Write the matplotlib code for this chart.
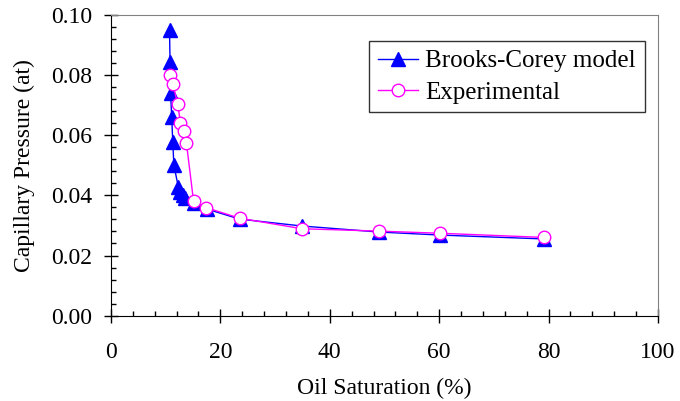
import numpy as np
import matplotlib.pyplot as plt
from matplotlib.ticker import MultipleLocator

# Brooks-Corey model
bc_sat = [10.7, 10.8, 10.9, 11.1, 11.3, 11.5, 12.3, 12.6, 13.1, 13.6, 15.2, 17.6, 23.5, 34.9, 49.0, 60.1, 79.2]
bc_pc = [0.095, 0.0844, 0.074, 0.066, 0.0576, 0.050, 0.0429, 0.0412, 0.0401, 0.039, 0.0374, 0.0354,
         0.0321, 0.0298, 0.0278, 0.0268, 0.0255]

# Experimental
exp_sat = [10.7, 11.3, 12.2, 12.7, 13.3, 13.8, 15.1, 17.4, 23.5, 34.9, 49.0, 60.1, 79.2]
exp_pc = [0.080, 0.077, 0.0703, 0.0641, 0.0614, 0.0573, 0.0380, 0.0359, 0.0324, 0.0289, 0.0281, 0.0274, 0.026]

y_ticks = [0.0, 0.02, 0.04, 0.06, 0.08, 0.10]

plt.rcParams['font.family'] = ['Liberation Serif', 'DejaVu Serif']

fig = plt.figure(figsize=(6.8, 4.01), dpi=100)
ax = fig.add_axes([0.1632, 0.2127, 0.8044, 0.7506])

ax.plot(bc_sat, bc_pc, color='blue', lw=1, marker='^', ms=9.5,
        mfc='blue', mec='blue', label='Brooks-Corey model', zorder=3)
ax.plot(exp_sat, exp_pc, color='magenta', lw=1, marker='o', ms=9,
        mfc='white', mec='magenta', label='Experimental', zorder=4)

ax.set_xlim(0, 100)
ax.set_ylim(0, 0.10)
ax.xaxis.set_major_locator(MultipleLocator(20))
ax.xaxis.set_minor_locator(MultipleLocator(4))
ax.set_yticks(y_ticks)
ax.set_yticklabels([f'{v:.2f}' for v in y_ticks])
ax.yaxis.set_minor_locator(MultipleLocator(0.004))

ax.tick_params(which='major', direction='inout', length=9.5, width=1, labelsize=17)
ax.tick_params(axis='x', which='major', pad=14)
ax.tick_params(axis='y', which='major', pad=9)
ax.tick_params(which='minor', direction='in', length=3.8, width=1)
for s in ['top', 'right']:
    ax.spines[s].set_color('gray')
for s in ['left', 'bottom']:
    ax.spines[s].set_color('black')

ax.set_xlabel('Oil Saturation (%)', fontsize=17, labelpad=11)
ax.set_ylabel('Capillary Pressure (at)', fontsize=17, labelpad=11)

leg = ax.legend(loc='upper left', bbox_to_anchor=(0.4717, 0.9126), fontsize=18,
                frameon=True, fancybox=False, edgecolor='black', handlelength=1.6,
                borderpad=0.35, labelspacing=0.35, handletextpad=0.3, borderaxespad=0)
leg.get_frame().set_linewidth(1)

fig.savefig('out.png', dpi=100)
